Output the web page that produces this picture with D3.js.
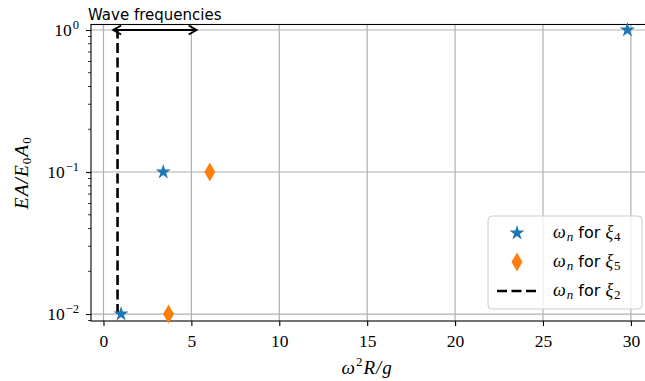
<!DOCTYPE html>
<html>
<head>
<meta charset="utf-8">
<script src="https://cdn.jsdelivr.net/npm/d3@7"></script>
<style>
  body { margin: 0; background: #fff; }
  text { fill: #000; }
  .serif { font-family: "Liberation Serif", "DejaVu Serif", serif; }
  .sans { font-family: "DejaVu Sans", "Noto Sans", sans-serif; }
</style>
</head>
<body>
<svg width="645" height="381"></svg>
<script>
// data
const xi4X = [1.0, 3.4, 29.8];
const xi4Y = [0.01, 0.1, 1];
const xi5X = [3.7, 6.05];
const xi5Y = [0.01, 0.1];
const xi2X = [0.8, 0.8];
const xi2Y = [0.01, 1];
const waveRange = [0.55, 5.3];
const xTicks = [0, 5, 10, 15, 20, 25, 30];
const yTicks = [0.01, 0.1, 1];
const yTickExp = ["\u22122", "\u22121", "0"];

const svg = d3.select("svg");
const pl = 91, pr = 646, pt = 24.5, pb = 321;

const x = d3.scaleLinear().domain([-0.71, 30.86]).range([pl, pr]);
const y = d3.scaleLog().domain([Math.pow(10, -2.049), Math.pow(10, 0.0387)]).range([pb, pt]);

const blue = "#1f77b4", orange = "#ff7f0e";

// grid
svg.append("g").selectAll("line").data(xTicks).join("line")
  .attr("x1", d => x(d)).attr("x2", d => x(d))
  .attr("y1", pt).attr("y2", pb)
  .attr("stroke", "#b0b0b0").attr("stroke-width", 1.2);
svg.append("g").selectAll("line").data(yTicks).join("line")
  .attr("x1", pl).attr("x2", pr)
  .attr("y1", d => y(d)).attr("y2", d => y(d))
  .attr("stroke", "#b0b0b0").attr("stroke-width", 1.2);

// axes
const xAxis = svg.append("g")
  .attr("transform", `translate(0,${pb})`)
  .call(d3.axisBottom(x).tickValues(xTicks).tickSize(5).tickPadding(9).tickFormat(d3.format("d")));
xAxis.select(".domain").remove();
xAxis.selectAll("line").attr("stroke-width", 1.1);
xAxis.selectAll("text").attr("class", "serif").style("font-size", "17.5px").attr("font-family", null);

// minor ticks on log axis
const minor = [];
for (let e = -3; e <= 0; e++) for (let m = 2; m <= 9; m++) {
  const v = m * Math.pow(10, e);
  if (v >= y.domain()[0] && v <= y.domain()[1]) minor.push(v);
}
svg.append("g").selectAll("line").data(minor).join("line")
  .attr("x1", pl - 3).attr("x2", pl)
  .attr("y1", d => y(d)).attr("y2", d => y(d))
  .attr("stroke", "#000").attr("stroke-width", 0.8);

const yAxis = svg.append("g")
  .attr("transform", `translate(${pl},0)`)
  .call(d3.axisLeft(y).tickValues(yTicks).tickSize(5).tickFormat(""));
yAxis.select(".domain").remove();
yAxis.selectAll("line").attr("stroke-width", 1.1);
yTicks.forEach((t, i) => {
  const lab = svg.append("text").attr("class", "serif")
    .attr("x", pl - 12).attr("y", y(t) + 6)
    .attr("text-anchor", "end").style("font-size", "17.5px");
  lab.append("tspan").text("10");
  lab.append("tspan").attr("dy", -7).attr("dx", 1).style("font-size", "12.5px").text(yTickExp[i]);
});

// spines
svg.append("rect").attr("x", pl).attr("y", pt)
  .attr("width", pr - pl).attr("height", pb - pt)
  .attr("fill", "none").attr("stroke", "#000").attr("stroke-width", 1.1);

// dashed line xi2
svg.append("path")
  .datum(xi2X.map((v, i) => [v, xi2Y[i]]))
  .attr("d", d3.line().x(d => x(d[0])).y(d => y(d[1])))
  .attr("fill", "none").attr("stroke", "#000")
  .attr("stroke-width", 2.6).attr("stroke-dasharray", "10,4.5");

// markers
const star = d3.symbol().type(d3.symbolStar).size(70);
svg.append("g").selectAll("path").data(xi4X).join("path")
  .attr("transform", (d, i) => `translate(${x(d)},${y(xi4Y[i])})`)
  .attr("d", star).attr("fill", blue);

function thinDiamond(w, h) {
  return `M0,${-h / 2}L${w / 2},0L0,${h / 2}L${-w / 2},0Z`;
}
svg.append("g").selectAll("path").data(xi5X).join("path")
  .attr("transform", (d, i) => `translate(${x(d)},${y(xi5Y[i])})`)
  .attr("d", thinDiamond(11, 19)).attr("fill", orange);

// arrow annotation
const defs = svg.append("defs");
defs.append("marker").attr("id", "arr").attr("viewBox", "-10 -6 12 12")
  .attr("refX", 0).attr("refY", 0).attr("markerWidth", 12).attr("markerHeight", 12)
  .attr("markerUnits", "userSpaceOnUse").attr("orient", "auto-start-reverse")
  .append("path").attr("d", "M-8,-4.5L0,0L-8,4.5")
  .attr("fill", "none").attr("stroke", "#000").attr("stroke-width", 1.8);
svg.append("line")
  .attr("x1", x(waveRange[0])).attr("x2", x(waveRange[1]))
  .attr("y1", y(1)).attr("y2", y(1))
  .attr("stroke", "#000").attr("stroke-width", 1.8)
  .attr("marker-start", "url(#arr)").attr("marker-end", "url(#arr)");
svg.append("text").attr("class", "sans")
  .attr("x", 88).attr("y", 20).style("font-size", "15px").text("Wave frequencies");

// axis labels
const xl = svg.append("text").attr("class", "serif")
  .attr("x", x(15)).attr("y", 374).attr("text-anchor", "middle")
  .style("font-size", "19px").style("font-style", "italic").style("letter-spacing", "1px");
xl.append("tspan").text("\u03c9");
xl.append("tspan").attr("dy", -8).style("font-size", "13px").style("font-style", "normal").text("2");
xl.append("tspan").attr("dy", 8).text("R/g");

const yl = svg.append("text").attr("class", "serif")
  .attr("transform", `translate(28,${(pt + pb) / 2}) rotate(-90)`)
  .attr("text-anchor", "middle").style("font-size", "19.5px").style("font-style", "italic")
  .style("letter-spacing", "1px");
yl.append("tspan").text("EA/E");
yl.append("tspan").attr("dy", 3).style("font-size", "13px").style("font-style", "normal").text("0");
yl.append("tspan").attr("dy", -3).text("A");
yl.append("tspan").attr("dy", 3).style("font-size", "13px").style("font-style", "normal").text("0");

// legend
const lg = svg.append("g");
lg.append("rect").attr("x", 488).attr("y", 216).attr("width", 154).attr("height", 93)
  .attr("rx", 4).attr("fill", "#fff").attr("fill-opacity", 0.8)
  .attr("stroke", "#cccccc").attr("stroke-width", 1);
const entries = [
  { kind: "star", sub: "4" },
  { kind: "diamond", sub: "5" },
  { kind: "dash", sub: "2" }
];
entries.forEach((e, i) => {
  const cy = 233 + i * 29;
  if (e.kind === "star") {
    lg.append("path").attr("transform", `translate(517,${cy})`).attr("d", star).attr("fill", blue);
  } else if (e.kind === "diamond") {
    lg.append("path").attr("transform", `translate(517,${cy})`).attr("d", thinDiamond(11, 19)).attr("fill", orange);
  } else {
    lg.append("line").attr("x1", 497).attr("x2", 538).attr("y1", cy).attr("y2", cy)
      .attr("stroke", "#000").attr("stroke-width", 2.6).attr("stroke-dasharray", "10,4.5");
  }
  const t = lg.append("text").attr("x", 553).attr("y", cy + 5).style("font-size", "18px");
  t.append("tspan").attr("class", "serif").style("font-style", "italic").text("\u03c9");
  t.append("tspan").attr("class", "serif").style("font-style", "italic").attr("dy", 3).attr("dx", 1).style("font-size", "13px").text("n");
  t.append("tspan").attr("class", "sans").attr("dy", -3).style("font-size", "16px").text(" for ");
  t.append("tspan").attr("class", "serif").style("font-style", "italic").text("\u03be");
  t.append("tspan").attr("class", "serif").attr("dy", 3).attr("dx", 1).style("font-size", "13px").text(e.sub);
});
</script>
</body>
</html>
